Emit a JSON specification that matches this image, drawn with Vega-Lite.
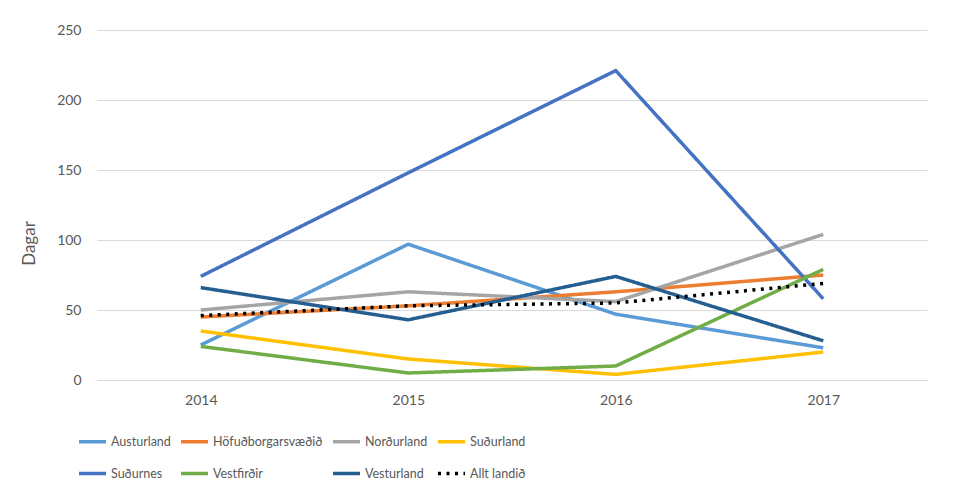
{
  "$schema": "https://vega.github.io/schema/vega-lite/v6.json",
  "autosize": "none",
  "width": 830,
  "height": 350,
  "padding": {"left": 97, "top": 30, "right": 34, "bottom": 107},
  "background": "white",
  "data": {"values": [
    {"ar": "2014", "svaedi": "Austurland", "dagar": 25},
    {"ar": "2015", "svaedi": "Austurland", "dagar": 97},
    {"ar": "2016", "svaedi": "Austurland", "dagar": 47},
    {"ar": "2017", "svaedi": "Austurland", "dagar": 23},
    {"ar": "2014", "svaedi": "Höfuðborgarsvæðið", "dagar": 45},
    {"ar": "2015", "svaedi": "Höfuðborgarsvæðið", "dagar": 53},
    {"ar": "2016", "svaedi": "Höfuðborgarsvæðið", "dagar": 63},
    {"ar": "2017", "svaedi": "Höfuðborgarsvæðið", "dagar": 75},
    {"ar": "2014", "svaedi": "Norðurland", "dagar": 50},
    {"ar": "2015", "svaedi": "Norðurland", "dagar": 63},
    {"ar": "2016", "svaedi": "Norðurland", "dagar": 56},
    {"ar": "2017", "svaedi": "Norðurland", "dagar": 104},
    {"ar": "2014", "svaedi": "Suðurland", "dagar": 35},
    {"ar": "2015", "svaedi": "Suðurland", "dagar": 15},
    {"ar": "2016", "svaedi": "Suðurland", "dagar": 4},
    {"ar": "2017", "svaedi": "Suðurland", "dagar": 20},
    {"ar": "2014", "svaedi": "Suðurnes", "dagar": 74},
    {"ar": "2015", "svaedi": "Suðurnes", "dagar": 148},
    {"ar": "2016", "svaedi": "Suðurnes", "dagar": 221},
    {"ar": "2017", "svaedi": "Suðurnes", "dagar": 58},
    {"ar": "2014", "svaedi": "Vestfirðir", "dagar": 24},
    {"ar": "2015", "svaedi": "Vestfirðir", "dagar": 5},
    {"ar": "2016", "svaedi": "Vestfirðir", "dagar": 10},
    {"ar": "2017", "svaedi": "Vestfirðir", "dagar": 79},
    {"ar": "2014", "svaedi": "Vesturland", "dagar": 66},
    {"ar": "2015", "svaedi": "Vesturland", "dagar": 43},
    {"ar": "2016", "svaedi": "Vesturland", "dagar": 74},
    {"ar": "2017", "svaedi": "Vesturland", "dagar": 28},
    {"ar": "2014", "svaedi": "Allt landið", "dagar": 46},
    {"ar": "2015", "svaedi": "Allt landið", "dagar": 53},
    {"ar": "2016", "svaedi": "Allt landið", "dagar": 55},
    {"ar": "2017", "svaedi": "Allt landið", "dagar": 69}
  ]},
  "mark": {"type": "line", "strokeWidth": 3.5, "strokeJoin": "round"},
  "encoding": {
    "x": {
      "field": "ar", "type": "ordinal", "title": null,
      "axis": {"labelAngle": 0, "ticks": false, "domain": false, "grid": false, "labelPadding": 13, "labelFontSize": 14, "labelColor": "#595959", "labelFont": "Lato"}
    },
    "y": {
      "field": "dagar", "type": "quantitative", "title": "Dagar",
      "scale": {"domain": [0, 250]},
      "axis": {"values": [0, 50, 100, 150, 200, 250], "ticks": false, "domain": false, "gridColor": "#D9D9D9", "gridWidth": 1.2, "labelPadding": 16, "labelFontSize": 14, "labelColor": "#595959", "labelFont": "Lato", "titleFont": "Lato", "titleFontSize": 17, "titleFontWeight": "normal", "titleColor": "#595959", "titlePadding": 18, "titleY": 213}
    },
    "color": {
      "field": "svaedi", "type": "nominal", "title": null,
      "scale": {
        "domain": ["Austurland", "Höfuðborgarsvæðið", "Norðurland", "Suðurland", "Suðurnes", "Vestfirðir", "Vesturland", "Allt landið"],
        "range": ["#5B9BD5", "#ED7D31", "#A5A5A5", "#FFC000", "#4472C4", "#70AD47", "#255E91", "#000000"]
      },
      "legend": {
        "orient": "none", "legendX": -20, "legendY": 396, "direction": "horizontal", "columns": 4,
        "symbolType": "stroke", "symbolSize": 729, "symbolStrokeWidth": 3.5,
        "labelFont": "Lato", "labelFontSize": 12.5, "labelColor": "#595959",
        "labelOffset": 3, "rowPadding": 9, "columnPadding": 3, "gridAlign": "each"
      }
    },
    "strokeDash": {
      "field": "svaedi", "type": "nominal", "title": null,
      "scale": {
        "domain": ["Austurland", "Höfuðborgarsvæðið", "Norðurland", "Suðurland", "Suðurnes", "Vestfirðir", "Vesturland", "Allt landið"],
        "range": [[1, 0], [1, 0], [1, 0], [1, 0], [1, 0], [1, 0], [1, 0], [3, 5.5]]
      },
      "legend": null
    }
  },
  "config": {"view": {"stroke": null}}
}
